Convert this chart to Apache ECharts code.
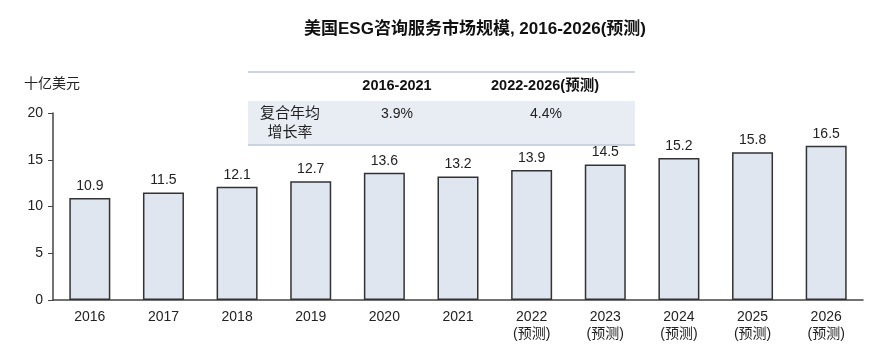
<!DOCTYPE html>
<html>
<head>
<meta charset="utf-8">
<script src="https://cdn.jsdelivr.net/npm/echarts@6/dist/echarts.min.js"></script>
<style>
  html, body { margin: 0; padding: 0; background: #fff; }
  #main { width: 875px; height: 351px; }
</style>
</head>
<body>
<div id="main"></div>
<script>
// 美国ESG咨询服务市场规模
var years = ['2016', '2017', '2018', '2019', '2020', '2021',
    '2022\n(预测)', '2023\n(预测)', '2024\n(预测)', '2025\n(预测)', '2026\n(预测)'];
var marketSize = [10.9, 11.5, 12.1, 12.7, 13.6, 13.2, 13.9, 14.5, 15.2, 15.8, 16.5];
var yTicks = [0, 5, 10, 15, 20];
var cagrPeriods = ['2016-2021', '2022-2026(预测)'];
var cagrValues = ['3.9%', '4.4%'];

var FONT = 'Arial, "Liberation Sans", "Noto Sans CJK SC", sans-serif';
var myChart = echarts.init(document.getElementById('main'));

var option = {
    backgroundColor: '#fff',
    textStyle: { fontFamily: FONT },
    title: {
        text: '美国ESG咨询服务市场规模, 2016-2026(预测)',
        left: 470,
        top: 16,
        textAlign: 'center',
        textStyle: {
            fontSize: 17,
            fontWeight: 'bold',
            color: '#111',
            fontFamily: FONT
        }
    },
    grid: {
        left: 53,
        right: 12,
        top: 113,
        bottom: 51
    },
    xAxis: {
        type: 'category',
        data: years,
        axisLine: { lineStyle: { color: '#444', width: 1.5 } },
        axisTick: { show: false },
        axisLabel: {
            interval: 0,
            color: '#222',
            fontSize: 14,
            lineHeight: 17,
            margin: 9
        }
    },
    yAxis: {
        type: 'value',
        min: yTicks[0],
        max: yTicks[yTicks.length - 1],
        interval: 5,
        splitLine: { show: false },
        axisLine: { show: true, lineStyle: { color: '#444', width: 1.5 } },
        axisTick: { show: true, inside: false, length: 5, lineStyle: { color: '#444' } },
        axisLabel: { color: '#222', fontSize: 14, margin: 10 }
    },
    series: [
        {
            type: 'bar',
            data: marketSize,
            barWidth: 41,
            itemStyle: {
                color: '#dfe6f0',
                borderColor: '#333',
                borderWidth: 1.5
            },
            label: {
                show: true,
                position: 'top',
                distance: 5,
                color: '#222',
                fontSize: 14
            }
        }
    ],
    graphic: [
        {
            type: 'text', left: 24, top: 77,
            style: { text: '十亿美元', fill: '#222', fontSize: 14, fontFamily: FONT }
        },
        {
            type: 'line',
            shape: { x1: 248, y1: 72, x2: 635, y2: 72 },
            style: { stroke: '#c9d4e2', lineWidth: 2 }
        },
        {
            type: 'rect',
            shape: { x: 248, y: 101, width: 387, height: 43 },
            style: { fill: '#e8edf4' }
        },
        {
            type: 'line',
            shape: { x1: 248, y1: 145, x2: 635, y2: 145 },
            style: { stroke: '#c9d4e2', lineWidth: 2 }
        },
        {
            type: 'text', x: 397, y: 86,
            style: { text: cagrPeriods[0], fill: '#111', fontSize: 14.5, fontWeight: 'bold', fontFamily: FONT, align: 'center', verticalAlign: 'middle' }
        },
        {
            type: 'text', x: 545, y: 86,
            style: { text: cagrPeriods[1], fill: '#111', fontSize: 14.5, fontWeight: 'bold', fontFamily: FONT, align: 'center', verticalAlign: 'middle' }
        },
        {
            type: 'text', x: 290, y: 123,
            style: { text: '复合年均\n增长率', fill: '#222', fontSize: 15, lineHeight: 19, fontFamily: FONT, align: 'center', verticalAlign: 'middle' }
        },
        {
            type: 'text', x: 397, y: 114,
            style: { text: cagrValues[0], fill: '#222', fontSize: 14, fontFamily: FONT, align: 'center', verticalAlign: 'middle' }
        },
        {
            type: 'text', x: 546, y: 114,
            style: { text: cagrValues[1], fill: '#222', fontSize: 14, fontFamily: FONT, align: 'center', verticalAlign: 'middle' }
        }
    ]
};

myChart.setOption(option);
</script>
</body>
</html>
